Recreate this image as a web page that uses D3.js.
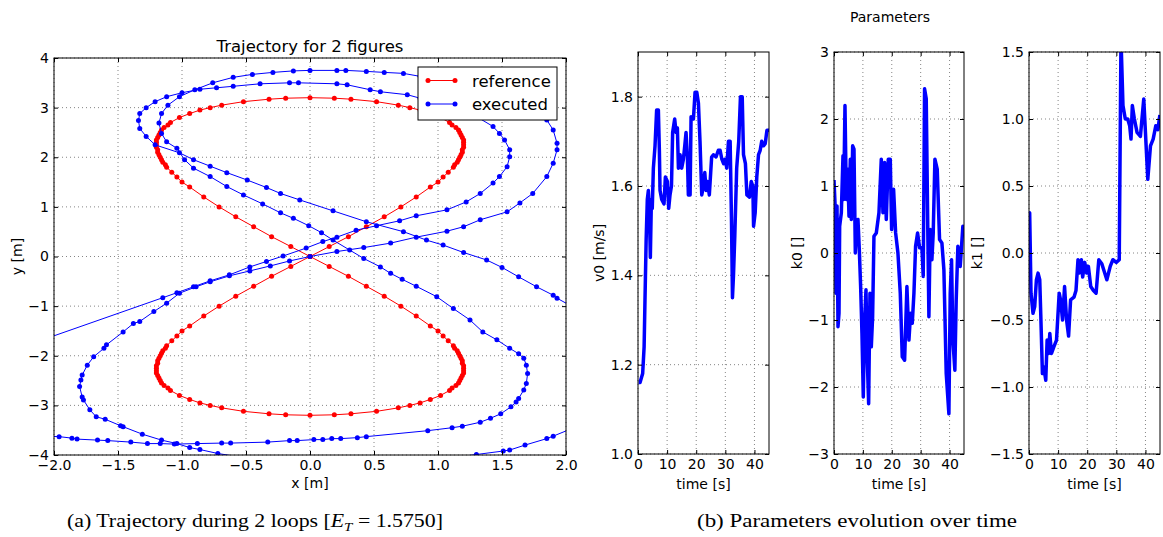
<!DOCTYPE html>
<html>
<head>
<meta charset="utf-8">
<script src="https://cdn.jsdelivr.net/npm/d3@7"></script>
<style>
  body { margin: 0; background: #fff; }
  svg { display: block; }
</style>
</head>
<body>
<svg id="fig" width="1163" height="537"></svg>
<script>
// ---- data ----
const xTicksTraj = [-2, -1.5, -1, -0.5, 0, 0.5, 1, 1.5, 2];
const yTicksTraj = [-4, -3, -2, -1, 0, 1, 2, 3, 4];
const timeTicks = [0, 10, 20, 30, 40];
const v0Ticks = [1.0, 1.2, 1.4, 1.6, 1.8];
const k0Ticks = [-3, -2, -1, 0, 1, 2, 3];
const k1Ticks = [-1.5, -1, -0.5, 0, 0.5, 1, 1.5];

// reference figure-8, upper and lower halves
const refUpper = [[0,0],[0.15,0.2],[0.3,0.4],[0.44,0.6],[0.58,0.8],[0.71,1.0],[0.83,1.2],[0.94,1.4],[1.0,1.5],[1.04,1.6],[1.08,1.7],[1.12,1.8],[1.13,1.85],[1.15,1.9],[1.16,1.95],[1.17,2.0],[1.18,2.05],[1.19,2.1],[1.19,2.15],[1.2,2.2],[1.2,2.25],[1.2,2.3],[1.2,2.35],[1.19,2.4],[1.18,2.45],[1.17,2.5],[1.16,2.55],[1.14,2.6],[1.11,2.65],[1.09,2.7],[1.02,2.8],[0.94,2.88],[0.86,2.95],[0.78,3.0],[0.69,3.05],[0.52,3.12],[0.32,3.17],[0.19,3.19],[0,3.2],
  [-0.19,3.19],[-0.32,3.17],[-0.52,3.12],[-0.69,3.05],[-0.78,3.0],[-0.86,2.95],[-0.94,2.88],[-1.02,2.8],[-1.09,2.7],[-1.11,2.65],[-1.14,2.6],[-1.16,2.55],[-1.17,2.5],[-1.18,2.45],[-1.19,2.4],[-1.2,2.35],[-1.2,2.3],[-1.2,2.25],[-1.2,2.2],[-1.19,2.15],[-1.19,2.1],[-1.18,2.05],[-1.17,2.0],[-1.16,1.95],[-1.15,1.9],[-1.13,1.85],[-1.12,1.8],[-1.08,1.7],[-1.04,1.6],[-1.0,1.5],[-0.94,1.4],[-0.83,1.2],[-0.71,1.0],[-0.58,0.8],[-0.44,0.6],[-0.3,0.4],[-0.15,0.2],[0,0]];
const refLower = [[0,0],[0.15,-0.2],[0.3,-0.4],[0.44,-0.6],[0.58,-0.8],[0.71,-1.0],[0.83,-1.2],[0.94,-1.4],[1.0,-1.5],[1.04,-1.6],[1.08,-1.7],[1.12,-1.8],[1.13,-1.85],[1.15,-1.9],[1.16,-1.95],[1.17,-2.0],[1.18,-2.05],[1.19,-2.1],[1.19,-2.15],[1.2,-2.2],[1.2,-2.25],[1.2,-2.3],[1.2,-2.35],[1.19,-2.4],[1.18,-2.45],[1.17,-2.5],[1.16,-2.55],[1.14,-2.6],[1.11,-2.65],[1.09,-2.7],[1.02,-2.8],[0.94,-2.88],[0.86,-2.95],[0.78,-3.0],[0.69,-3.05],[0.52,-3.12],[0.32,-3.17],[0.19,-3.19],[0,-3.2],
  [-0.19,-3.19],[-0.32,-3.17],[-0.52,-3.12],[-0.69,-3.05],[-0.78,-3.0],[-0.86,-2.95],[-0.94,-2.88],[-1.02,-2.8],[-1.09,-2.7],[-1.11,-2.65],[-1.14,-2.6],[-1.16,-2.55],[-1.17,-2.5],[-1.18,-2.45],[-1.19,-2.4],[-1.2,-2.35],[-1.2,-2.3],[-1.2,-2.25],[-1.2,-2.2],[-1.19,-2.15],[-1.19,-2.1],[-1.18,-2.05],[-1.17,-2.0],[-1.16,-1.95],[-1.15,-1.9],[-1.13,-1.85],[-1.12,-1.8],[-1.08,-1.7],[-1.04,-1.6],[-1.0,-1.5],[-0.94,-1.4],[-0.83,-1.2],[-0.71,-1.0],[-0.58,-0.8],[-0.44,-0.6],[-0.3,-0.4],[-0.15,-0.2],[0,0]];

// executed path, first and second loop (ends leave the plot)
const execLoop1 = [[-2.6,-3.58],[-1.96,-3.63],[-1.86,-3.66],[-1.82,-3.68],[-1.66,-3.70],[-1.58,-3.71],[-1.40,-3.74],[-1.27,-3.77],[-1.17,-3.77],[-1.06,-3.78],[-0.88,-3.77],[-0.69,-3.76],[-0.62,-3.76],[-0.33,-3.74],[-0.16,-3.71],[-0.10,-3.71],[0.03,-3.69],[0.10,-3.69],[0.17,-3.67],[0.24,-3.67],[0.37,-3.65],[0.44,-3.63],[0.92,-3.51],[1.11,-3.45],[1.19,-3.42],[1.33,-3.34],[1.41,-3.26],[1.49,-3.17],[1.57,-3.03],[1.61,-2.93],[1.63,-2.86],[1.67,-2.69],[1.69,-2.56],[1.70,-2.36],[1.69,-2.19],[1.67,-2.05],[1.63,-1.96],[1.56,-1.85],[1.46,-1.68],[1.35,-1.52],[1.25,-1.28],[1.12,-1.05],[0.99,-0.81],[0.83,-0.6],[0.72,-0.46],[0.63,-0.34],[0.55,-0.21],[0.42,-0.04],[0.31,0.13],[0.18,0.33],[0.09,0.48],[-0.01,0.62],[-0.13,0.77],[-0.23,0.88],[-0.37,1.06],[-0.52,1.24],[-0.65,1.41],[-0.78,1.61],[-0.91,1.78],[-0.98,1.95],[-1.04,2.18],[-1.12,2.31],[-1.16,2.48],[-1.18,2.69],[-1.16,2.88],[-1.11,3.05],[-1.02,3.22],[-0.90,3.36],[-0.76,3.50],[-0.60,3.61],[-0.45,3.67],[-0.29,3.71],[-0.13,3.74],[0.0,3.75],[0.21,3.75],[0.28,3.75],[0.44,3.73],[0.58,3.71],[0.73,3.69],[0.86,3.63],[1.2,3.48],[1.5,3.25],[1.72,3.0],[1.85,2.75],[1.90,2.55],[1.93,2.28],[1.93,2.15],[1.90,1.88],[1.85,1.61],[1.74,1.27],[1.64,1.08],[1.54,0.90],[1.33,0.74],[1.20,0.60],[1.07,0.51],[0.83,0.39],[0.63,0.27],[0.42,0.18],[0.21,0.10],[0.0,0.0],[-0.16,-0.09],[-0.31,-0.19],[-0.47,-0.29],[-0.63,-0.39],[-0.78,-0.51],[-0.89,-0.61],[-1.02,-0.74],[-1.12,-0.94],[-1.22,-1.11],[-1.33,-1.31],[-1.38,-1.35],[-1.46,-1.52],[-1.59,-1.78],[-1.61,-1.85],[-1.69,-2.02],[-1.74,-2.19],[-1.78,-2.39],[-1.79,-2.49],[-1.80,-2.62],[-1.78,-2.83],[-1.77,-2.89],[-1.72,-3.09],[-1.67,-3.23],[-1.60,-3.28],[-1.48,-3.41],[-1.46,-3.43],[-1.31,-3.58],[-1.16,-3.70],[-1.04,-3.77],[-0.94,-3.85],[-0.86,-3.89],[-0.72,-3.97],[-0.45,-4.08],[0.1,-4.2],[0.7,-4.15],[1.10,-4.06],[1.30,-3.99],[1.51,-3.92],[1.56,-3.90],[1.68,-3.80],[1.85,-3.67],[1.90,-3.62],[2.3,-3.2]];
const execLoop2 = [[2.2,-1.23],[1.93,-0.84],[1.90,-0.78],[1.77,-0.61],[1.63,-0.41],[1.50,-0.22],[1.38,-0.07],[1.2,0.08],[1.04,0.23],[0.91,0.33],[0.73,0.50],[0.44,0.70],[0.18,0.92],[-0.08,1.14],[-0.23,1.27],[-0.34,1.39],[-0.49,1.54],[-0.65,1.69],[-0.78,1.82],[-0.91,1.95],[-1.02,2.09],[-1.21,2.25],[-1.28,2.42],[-1.33,2.58],[-1.34,2.74],[-1.33,2.88],[-1.28,3.0],[-1.21,3.12],[-1.12,3.22],[-1.0,3.3],[-0.86,3.37],[-0.73,3.40],[-0.6,3.43],[-0.39,3.48],[-0.16,3.50],[-0.09,3.50],[0.21,3.48],[0.29,3.46],[0.47,3.36],[0.55,3.32],[0.76,3.26],[0.86,3.19],[1.1,3.02],[1.3,2.82],[1.43,2.62],[1.48,2.48],[1.52,2.35],[1.56,2.15],[1.56,2.01],[1.54,1.81],[1.48,1.61],[1.43,1.48],[1.33,1.27],[1.22,1.10],[1.07,0.94],[0.83,0.82],[0.70,0.72],[0.52,0.62],[0.36,0.53],[0.21,0.39],[0.10,0.30],[-0.03,0.17],[-0.21,0.01],[-0.34,-0.10],[-0.47,-0.21],[-0.63,-0.37],[-0.78,-0.49],[-0.91,-0.61],[-1.04,-0.73],[-1.15,-0.83],[-2.5,-2.05]];

// parameter evolution, [time s, value]
const v0Series = [[0.2,1.16],[0.7,1.16],[1.6,1.18],[2.1,1.24],[2.4,1.345],[2.8,1.48],[3.2,1.57],[3.56,1.59],[3.9,1.55],[4.24,1.44],[4.6,1.57],[4.9,1.55],[5.28,1.64],[5.85,1.69],[6.4,1.77],[7.0,1.77],[7.34,1.68],[7.57,1.59],[8.14,1.57],[8.94,1.56],[9.4,1.62],[10.1,1.61],[10.55,1.55],[11.0,1.58],[11.5,1.60],[11.9,1.72],[12.6,1.75],[13.07,1.72],[13.53,1.73],[13.88,1.64],[14.45,1.67],[15.0,1.64],[15.6,1.66],[16.06,1.69],[16.5,1.72],[16.97,1.665],[17.3,1.58],[17.9,1.58],[18.23,1.755],[19.04,1.75],[19.6,1.81],[20.2,1.81],[20.76,1.785],[21.3,1.70],[21.9,1.58],[22.5,1.60],[22.94,1.63],[23.4,1.59],[23.85,1.61],[24.5,1.58],[25.3,1.665],[25.9,1.67],[26.8,1.665],[27.6,1.68],[28.2,1.68],[28.8,1.66],[29.4,1.65],[29.9,1.66],[30.5,1.64],[31.07,1.70],[31.65,1.70],[32.1,1.53],[32.45,1.35],[32.8,1.40],[33.26,1.49],[33.9,1.64],[34.6,1.70],[35.2,1.80],[35.8,1.80],[36.24,1.67],[36.9,1.65],[37.4,1.58],[38.3,1.575],[38.9,1.61],[39.45,1.60],[39.7,1.51],[40.25,1.54],[40.8,1.62],[41.4,1.67],[41.97,1.68],[42.5,1.70],[43.1,1.69],[43.7,1.695],[44.3,1.725],[45,1.725]];
const k0Series = [[0.0,1.09],[0.35,0.74],[0.69,-0.6],[1.04,0.7],[1.38,-1.1],[1.73,-0.9],[1.96,0.4],[2.54,0.6],[3.11,1.45],[3.34,0.8],[3.8,2.2],[4.27,0.8],[4.73,1.25],[5.19,0.55],[5.65,1.4],[5.99,0.5],[6.46,1.6],[6.92,1.55],[7.38,0.0],[7.84,0.45],[8.3,0.5],[8.76,0.05],[9.22,-0.5],[9.68,-1.2],[10.14,-2.15],[10.6,-1.0],[11.07,-0.55],[11.53,-1.6],[11.99,-2.25],[12.45,-0.6],[12.91,-1.4],[13.37,-0.95],[13.83,0.25],[14.64,0.3],[15.56,0.6],[16.37,1.4],[16.95,0.6],[17.52,1.35],[18.1,0.5],[18.79,1.4],[19.48,1.4],[19.94,0.35],[20.63,0.95],[21.33,0.3],[22.13,0.0],[22.94,-0.6],[23.63,-1.55],[24.44,-1.6],[25.24,-0.5],[25.94,-1.3],[26.51,-0.9],[27.09,-1.05],[27.67,-0.6],[28.24,0.1],[28.93,0.3],[29.63,0.08],[30.43,0.08],[30.89,-0.35],[31.35,2.45],[31.93,2.3],[32.51,0.2],[32.85,-0.95],[33.31,0.35],[33.89,-0.1],[34.35,0.3],[34.93,1.4],[35.73,1.25],[36.54,0.2],[37.35,0.15],[38.04,-0.25],[38.85,-1.8],[39.77,-2.4],[40.23,-0.6],[40.69,-0.1],[41.15,-1.3],[41.84,-1.75],[42.3,-0.7],[42.88,0.1],[43.69,-0.2],[44.61,0.4],[45,0.35]];
const k1Series = [[0.05,0.3],[0.23,0.3],[0.69,-0.3],[1.38,-0.45],[1.96,-0.4],[2.54,-0.2],[3.11,-0.15],[3.69,-0.2],[4.03,-0.45],[4.61,-0.9],[5.07,-0.85],[5.76,-0.95],[6.22,-0.65],[6.69,-0.75],[7.15,-0.6],[7.72,-0.75],[8.53,-0.7],[9.45,-0.65],[10.37,-0.3],[10.84,-0.35],[11.53,-0.5],[12.22,-0.25],[12.91,-0.5],[13.6,-0.62],[14.29,-0.35],[15.45,-0.33],[16.14,-0.28],[16.83,-0.05],[17.29,-0.15],[17.98,-0.05],[18.44,-0.18],[19.14,-0.07],[19.83,-0.15],[20.4,-0.1],[21.21,-0.25],[22.13,-0.28],[23.05,-0.3],[23.98,-0.05],[25.01,-0.08],[26.74,-0.2],[27.9,-0.1],[28.82,-0.05],[29.97,-0.07],[31.0,-0.05],[31.6,1.6],[32.28,1.1],[33.08,1.0],[33.89,1.0],[34.58,0.95],[35.04,0.85],[35.5,1.1],[36.2,1.0],[37.12,0.9],[38.27,0.87],[39.42,1.15],[40.0,0.9],[40.81,0.55],[41.73,0.8],[42.65,0.85],[43.57,0.95],[44.27,0.92],[44.96,1.03]];

// ---- drawing ----
const svg = d3.select('#fig');
const FONT = 'DejaVu Sans';
const TICK_FS = 14;
const uminus = s => s.replace('-', '\u2212');

function panel(o) {
    const x = d3.scaleLinear().domain(o.xDomain).range([o.left, o.right]);
    const y = d3.scaleLinear().domain(o.yDomain).range([o.bottom, o.top]);
    const g = svg.append('g');
    const cid = 'clip-' + o.name;
    g.append('clipPath').attr('id', cid).append('rect')
        .attr('x', o.left).attr('y', o.top)
        .attr('width', o.right - o.left).attr('height', o.bottom - o.top);

    // dotted grid
    g.append('g').selectAll('line').data(o.xTicks).join('line')
        .attr('x1', d => x(d)).attr('x2', d => x(d))
        .attr('y1', o.top).attr('y2', o.bottom);
    g.append('g').selectAll('line').data(o.yTicks).join('line')
        .attr('x1', o.left).attr('x2', o.right)
        .attr('y1', d => y(d)).attr('y2', d => y(d));
    g.selectAll('line').attr('stroke', '#666').attr('stroke-width', 0.8).attr('stroke-dasharray', '1,3');

    const plot = g.append('g').attr('clip-path', `url(#${cid})`);

    const fx = d => uminus(o.xFormat(d));
    const fy = d => uminus(o.yFormat(d));
    const axes = g.append('g');
    const styleAxis = sel => {
        sel.select('.domain').remove();
        sel.attr('font-family', FONT).attr('font-size', TICK_FS);
        sel.selectAll('text').attr('fill', '#000');
    };
    axes.append('g').attr('transform', `translate(0,${o.bottom})`)
        .call(d3.axisBottom(x).tickValues(o.xTicks).tickFormat(fx).tickSizeInner(-4).tickSizeOuter(0).tickPadding(5))
        .call(styleAxis);
    axes.append('g').attr('transform', `translate(0,${o.top})`)
        .call(d3.axisTop(x).tickValues(o.xTicks).tickFormat('').tickSizeInner(-4).tickSizeOuter(0))
        .call(styleAxis);
    axes.append('g').attr('transform', `translate(${o.left},0)`)
        .call(d3.axisLeft(y).tickValues(o.yTicks).tickFormat(fy).tickSizeInner(-4).tickSizeOuter(0).tickPadding(5))
        .call(styleAxis);
    axes.append('g').attr('transform', `translate(${o.right},0)`)
        .call(d3.axisRight(y).tickValues(o.yTicks).tickFormat('').tickSizeInner(-4).tickSizeOuter(0))
        .call(styleAxis);

    axes.append('rect')
        .attr('x', o.left).attr('y', o.top)
        .attr('width', o.right - o.left).attr('height', o.bottom - o.top)
        .attr('fill', 'none').attr('stroke', '#000').attr('stroke-width', 1);

    // axis labels
    axes.append('text')
        .attr('x', (o.left + o.right) / 2).attr('y', o.xLabelY)
        .attr('text-anchor', 'middle').attr('font-family', FONT).attr('font-size', TICK_FS)
        .text(o.xLabel);
    axes.append('text')
        .attr('transform', `translate(${o.yLabelX},${(o.top + o.bottom) / 2}) rotate(-90)`)
        .attr('text-anchor', 'middle').attr('font-family', FONT).attr('font-size', TICK_FS)
        .text(o.yLabel);

    return { x, y, plot };
}

function drawPath(p, data, color, width, markers) {
    const line = d3.line().x(d => p.x(d[0])).y(d => p.y(d[1]));
    p.plot.append('path').datum(data)
        .attr('d', line).attr('fill', 'none')
        .attr('stroke', color).attr('stroke-width', width)
        .attr('stroke-linejoin', 'round');
    if (markers) {
        p.plot.append('g').selectAll('circle').data(data).join('circle')
            .attr('cx', d => p.x(d[0])).attr('cy', d => p.y(d[1]))
            .attr('r', 2.5).attr('fill', color);
    }
}

// trajectory panel
const traj = panel({
    name: 'traj', left: 54, right: 566, top: 58, bottom: 455,
    xDomain: [-2, 2], yDomain: [-4, 4],
    xTicks: xTicksTraj, yTicks: yTicksTraj,
    xFormat: d3.format('.1f'), yFormat: d3.format('d'),
    xLabel: 'x [m]', xLabelY: 488, yLabel: 'y [m]', yLabelX: 22
});
drawPath(traj, refUpper, '#ff0000', 1, true);
drawPath(traj, refLower, '#ff0000', 1, true);
drawPath(traj, execLoop1, '#0000ff', 1, true);
drawPath(traj, execLoop2, '#0000ff', 1, true);

svg.append('text')
    .attr('x', 310).attr('y', 52).attr('text-anchor', 'middle')
    .attr('font-family', FONT).attr('font-size', 16.5)
    .text('Trajectory for 2 figures');

// legend
const legend = svg.append('g');
legend.append('rect').attr('x', 418).attr('y', 67).attr('width', 139).attr('height', 53)
    .attr('fill', '#fff').attr('stroke', '#000').attr('stroke-width', 1);
[['reference', '#ff0000', 80.5, 86.5], ['executed', '#0000ff', 104, 110]].forEach(([label, c, ly, ty]) => {
    legend.append('line').attr('x1', 428).attr('x2', 455).attr('y1', ly).attr('y2', ly)
        .attr('stroke', c).attr('stroke-width', 1);
    [428, 455].forEach(cx => legend.append('circle').attr('cx', cx).attr('cy', ly).attr('r', 2.5).attr('fill', c));
    legend.append('text').attr('x', 472).attr('y', ty)
        .attr('font-family', FONT).attr('font-size', 16.5).text(label);
});

// parameter panels
const common = { xDomain: [0, 45], xTicks: timeTicks, xFormat: d3.format('d'), top: 52, bottom: 454, xLabel: 'time [s]', xLabelY: 489 };
const pv0 = panel(Object.assign({}, common, {
    name: 'v0', left: 638, right: 769, yDomain: [1.0, 1.9], yTicks: v0Ticks,
    yFormat: d3.format('.1f'), yLabel: 'v0 [m/s]', yLabelX: 604
}));
drawPath(pv0, v0Series, '#0000ff', 3.5, false);

const pk0 = panel(Object.assign({}, common, {
    name: 'k0', left: 834, right: 964, yDomain: [-3, 3], yTicks: k0Ticks,
    yFormat: d3.format('d'), yLabel: 'k0 []', yLabelX: 802
}));
drawPath(pk0, k0Series, '#0000ff', 3.5, false);

const pk1 = panel(Object.assign({}, common, {
    name: 'k1', left: 1029, right: 1160, yDomain: [-1.5, 1.5], yTicks: k1Ticks,
    yFormat: d3.format('.1f'), yLabel: 'k1 []', yLabelX: 982
}));
drawPath(pk1, k1Series, '#0000ff', 3.5, false);

svg.append('text')
    .attr('x', 890).attr('y', 22).attr('text-anchor', 'middle')
    .attr('font-family', FONT).attr('font-size', 14)
    .text('Parameters');

// captions
const capA = svg.append('text')
    .attr('x', 67).attr('y', 527)
    .attr('font-family', 'Liberation Serif').attr('font-size', 19)
    .attr('textLength', 376).attr('lengthAdjust', 'spacingAndGlyphs');
capA.append('tspan').text('(a) Trajectory during 2 loops [');
capA.append('tspan').attr('font-style', 'italic').text('E');
capA.append('tspan').attr('font-style', 'italic').attr('font-size', 13).attr('dy', 4).text('T');
capA.append('tspan').attr('dy', -4).text(' = 1.5750]');

svg.append('text')
    .attr('x', 697).attr('y', 527)
    .attr('font-family', 'Liberation Serif').attr('font-size', 19)
    .attr('textLength', 320).attr('lengthAdjust', 'spacingAndGlyphs')
    .text('(b) Parameters evolution over time');
</script>
</body>
</html>
